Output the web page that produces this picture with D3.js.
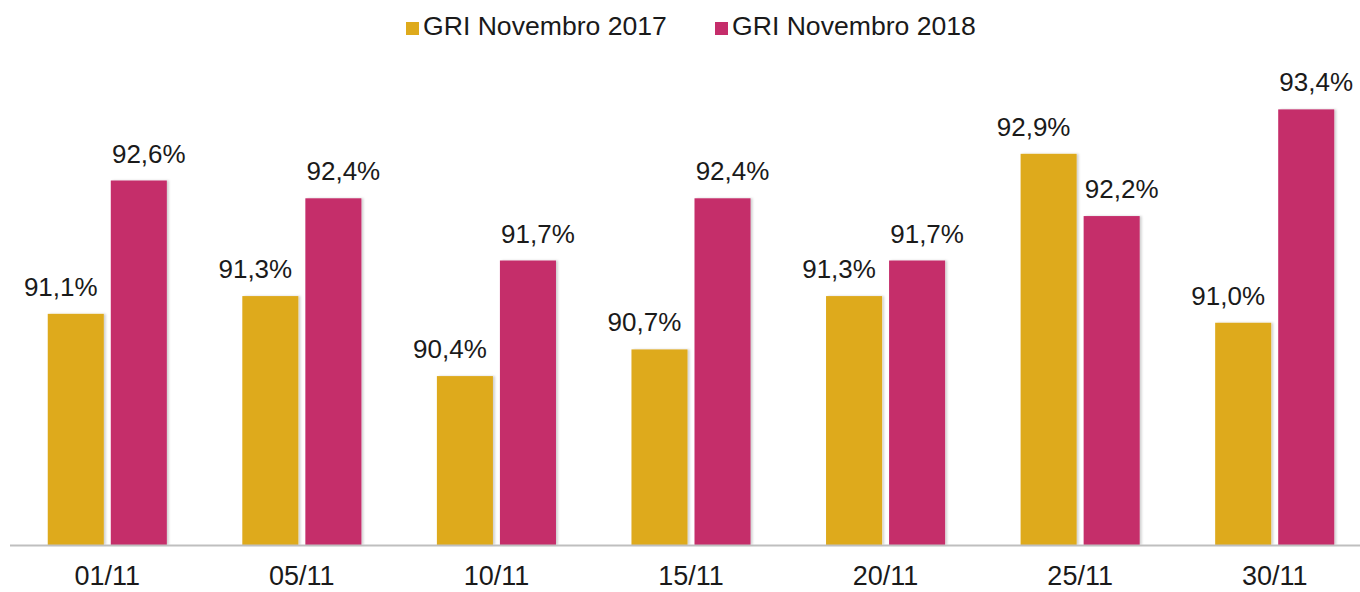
<!DOCTYPE html>
<html>
<head>
<meta charset="utf-8">
<script src="https://cdn.jsdelivr.net/npm/d3@7"></script>
<style>
  body { margin: 0; background: #fff; }
  text { font-family: "Liberation Sans", Arial, sans-serif; fill: #1a1a1a; }
</style>
</head>
<body>
<div id="chart"></div>
<script>
const categories = ["01/11", "05/11", "10/11", "15/11", "20/11", "25/11", "30/11"];
const seriesNames = ["GRI Novembro 2017", "GRI Novembro 2018"];
const values2017 = [91.1, 91.3, 90.4, 90.7, 91.3, 92.9, 91.0];
const values2018 = [92.6, 92.4, 91.7, 92.4, 91.7, 92.2, 93.4];
const colors = ["#DEAA1C", "#C52D6B"];

const width = 1360, height = 592;
const baseY = 545;

const svg = d3.select("#chart")
  .append("svg")
    .attr("width", width)
    .attr("height", height);

// soft shadow like the office chart
const defs = svg.append("defs");
const f = defs.append("filter").attr("id", "shadow")
  .attr("x", "-10%").attr("y", "-10%").attr("width", "130%").attr("height", "130%");
f.append("feDropShadow")
  .attr("dx", 2).attr("dy", 0).attr("stdDeviation", 1.2)
  .attr("flood-color", "#000").attr("flood-opacity", 0.18);

const x0 = d3.scaleBand()
  .domain(categories)
  .range([10, 1372])
  .paddingInner(0.388)
  .paddingOuter(0.194);

const x1 = d3.scaleBand()
  .domain([0, 1])
  .range([0, x0.bandwidth()])
  .paddingInner(0.111);

const y = d3.scaleLinear()
  .domain([88.5, 94])
  .range([baseY, baseY - 5.5 * 88.9]);

const rows = categories.map((c, i) => ({cat: c, vals: [values2017[i], values2018[i]]}));

const groups = svg.selectAll(".grp")
  .data(rows)
  .join("g")
    .attr("class", "grp")
    .attr("transform", d => `translate(${x0(d.cat)},0)`);

groups.selectAll("rect")
  .data(d => d.vals.map((v, k) => ({k: k, v: v})))
  .join("rect")
    .attr("x", d => x1(d.k))
    .attr("y", d => y(d.v))
    .attr("width", x1.bandwidth())
    .attr("height", d => baseY - y(d.v))
    .attr("fill", d => colors[d.k])
    .attr("filter", "url(#shadow)");

const labelShift = [-15, 10];
const fmt = v => d3.format(".1f")(v).replace(".", ",") + "%";

groups.selectAll("text.val")
  .data(d => d.vals.map((v, k) => ({k: k, v: v})))
  .join("text")
    .attr("class", "val")
    .attr("x", d => x1(d.k) + x1.bandwidth() / 2 + labelShift[d.k])
    .attr("y", d => y(d.v) - 18)
    .attr("text-anchor", "middle")
    .attr("font-size", 26)
    .text(d => fmt(d.v));

// x axis
const xAxis = svg.append("g")
  .attr("transform", `translate(0,${baseY})`)
  .call(d3.axisBottom(x0).tickSize(0).tickPadding(21));
xAxis.select(".domain")
  .attr("d", `M10,0.5H${width}`)
  .attr("stroke", "#BFBFBF")
  .attr("stroke-width", 2);
xAxis.selectAll("text")
  .attr("font-size", 27)
  .attr("font-family", "Liberation Sans, Arial, sans-serif")
  .attr("fill", "#1a1a1a");

// legend
const legendX = [406, 715];
const legend = svg.selectAll(".leg")
  .data(seriesNames)
  .join("g")
    .attr("class", "leg")
    .attr("transform", (d, i) => `translate(${legendX[i]},22)`);
legend.append("rect")
  .attr("width", 13).attr("height", 13)
  .attr("fill", (d, i) => colors[i]);
legend.append("text")
  .attr("x", 17).attr("y", 13)
  .attr("font-size", 26.6)
  .text(d => d);
</script>
</body>
</html>
